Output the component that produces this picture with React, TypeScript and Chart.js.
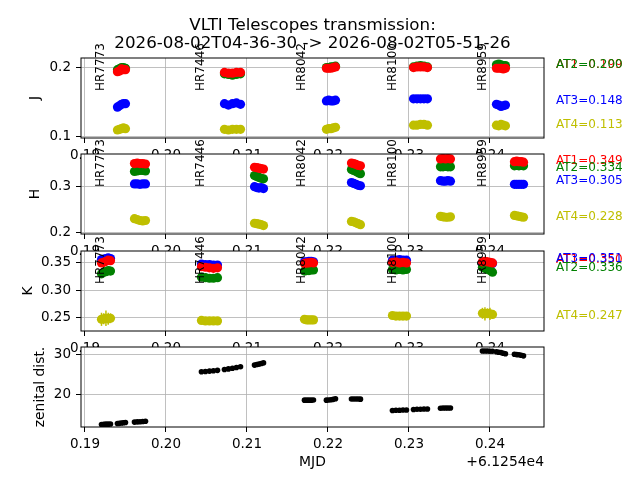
import { useEffect, useRef } from "react";
import { Chart, registerables } from "chart.js";

Chart.register(...registerables);

// MJD values are stored as offsets from 61254 (axis shows "+6.1254e4")
const stars = ["HR7773", "HR7446", "HR8042", "HR8100", "HR8959"];
const starMjd = [0.19191, 0.20432, 0.21673, 0.22796, 0.23907];
const telescopes = ["AT1", "AT2", "AT3", "AT4"];
const telColors = ["#ff0000", "#008000", "#0000ff", "#bfbf00"];
const xTicks = [0.19, 0.2, 0.21, 0.22, 0.23, 0.24];
const mjdOffsetLabel = "+6.1254e4";
const titleLines = [
  "VLTI Telescopes transmission:",
  "2026-08-02T04-36-30 -> 2026-08-02T05-51-26",
];

// observation times per band
const mjdK = [
  0.19204, 0.19232, 0.19259, 0.19287, 0.19315,
  0.20438, 0.20487, 0.20537, 0.20586, 0.20636,
  0.2171, 0.21738, 0.21765, 0.21793, 0.21821,
  0.22796, 0.22839, 0.22883, 0.22926, 0.22969,
  0.23907, 0.23938, 0.23969, 0.24, 0.24031,
];
const mjdJ = [
  0.19401, 0.19426, 0.19451, 0.19475, 0.195,
  0.20722, 0.20771, 0.20821, 0.2087, 0.2092,
  0.21981, 0.22009, 0.22037, 0.22065, 0.22093,
  0.23056, 0.23099, 0.23142, 0.23185, 0.23228,
  0.2408, 0.24108, 0.24136, 0.24164, 0.24191,
];
const mjdH = [
  0.19611, 0.19645, 0.19679, 0.19713, 0.19747,
  0.21093, 0.21121, 0.21148, 0.21176, 0.21204,
  0.2229, 0.22318, 0.22346, 0.22373, 0.22401,
  0.23389, 0.2342, 0.23451, 0.23481, 0.23512,
  0.24302, 0.2433, 0.24358, 0.24386, 0.24414,
];

// J band transmission
const jAT1 = [
  0.194, 0.195, 0.198, 0.197, 0.197, 0.193, 0.192, 0.192, 0.193, 0.193,
  0.199, 0.199, 0.199, 0.2, 0.201, 0.2, 0.201, 0.201, 0.201, 0.2,
  0.199, 0.199, 0.199, 0.198, 0.199,
];
const jAT2 = [
  0.197, 0.198, 0.2, 0.2, 0.199, 0.191, 0.19, 0.189, 0.19, 0.191,
  0.2, 0.2, 0.201, 0.201, 0.202, 0.201, 0.202, 0.203, 0.202, 0.201,
  0.204, 0.205, 0.204, 0.203, 0.203,
];
const jAT3 = [
  0.143, 0.145, 0.147, 0.148, 0.148, 0.148, 0.146, 0.148, 0.149, 0.147,
  0.152, 0.153, 0.152, 0.152, 0.153, 0.155, 0.155, 0.155, 0.155, 0.155,
  0.147, 0.146, 0.144, 0.145, 0.146,
];
const jAT4 = [
  0.11, 0.111, 0.112, 0.113, 0.112, 0.111, 0.11, 0.111, 0.111, 0.111,
  0.111, 0.112, 0.112, 0.113, 0.114, 0.117, 0.117, 0.118, 0.118, 0.117,
  0.117, 0.116, 0.118, 0.117, 0.116,
];

// H band transmission
const hAT1 = [
  0.35, 0.351, 0.35, 0.35, 0.349, 0.342, 0.341, 0.34, 0.339, 0.338,
  0.351, 0.35, 0.348, 0.346, 0.345, 0.36, 0.361, 0.36, 0.361, 0.36,
  0.354, 0.355, 0.354, 0.354, 0.353,
];
const hAT2 = [
  0.333, 0.334, 0.335, 0.335, 0.334, 0.324, 0.322, 0.32, 0.318, 0.317,
  0.337, 0.335, 0.333, 0.33, 0.328, 0.343, 0.343, 0.344, 0.343, 0.343,
  0.345, 0.346, 0.345, 0.346, 0.345,
];
const hAT3 = [
  0.306, 0.306, 0.305, 0.306, 0.306, 0.3, 0.298, 0.297, 0.298, 0.296,
  0.309, 0.307, 0.305, 0.303, 0.302, 0.313, 0.312, 0.312, 0.313, 0.312,
  0.305, 0.305, 0.305, 0.305, 0.305,
];
const hAT4 = [
  0.231, 0.229, 0.227, 0.226, 0.227, 0.221, 0.22, 0.219, 0.218, 0.216,
  0.225, 0.224, 0.222, 0.22, 0.218, 0.236, 0.235, 0.234, 0.234, 0.235,
  0.238, 0.237, 0.236, 0.235, 0.234,
];

// K band transmission
const kAT1 = [
  0.35, 0.351, 0.353, 0.355, 0.354, 0.343, 0.342, 0.341, 0.34, 0.341,
  0.349, 0.35, 0.35, 0.351, 0.35, 0.351, 0.352, 0.35, 0.351, 0.35,
  0.352, 0.353, 0.352, 0.351, 0.35,
];
const kAT2 = [
  0.33, 0.333, 0.334, 0.336, 0.335, 0.324, 0.323, 0.322, 0.322, 0.323,
  0.335, 0.336, 0.336, 0.337, 0.337, 0.338, 0.337, 0.338, 0.337, 0.338,
  0.342, 0.34, 0.338, 0.336, 0.333,
];
const kAT3 = [
  0.356, 0.357, 0.358, 0.359, 0.358, 0.348, 0.347, 0.347, 0.346, 0.346,
  0.352, 0.352, 0.353, 0.353, 0.352, 0.355, 0.355, 0.356, 0.355, 0.355,
  0.35, 0.35, 0.349, 0.349, 0.349,
];
const kAT4 = [
  0.247, 0.248, 0.249, 0.248, 0.249, 0.245, 0.244, 0.244, 0.244, 0.244,
  0.247, 0.246, 0.246, 0.246, 0.246, 0.254, 0.253, 0.253, 0.253, 0.253,
  0.258, 0.257, 0.258, 0.257, 0.256,
];
const kErrAT1 = [
  0.006, 0.01, 0.008, 0.005, 0.007, 0, 0, 0, 0, 0,
  0, 0, 0, 0, 0, 0, 0, 0, 0, 0,
  0.004, 0.006, 0.008, 0.005, 0.004,
];
const kErrAT4 = [
  0.012, 0.01, 0.014, 0.011, 0.009, 0.002, 0.002, 0.002, 0.002, 0.002,
  0.002, 0.002, 0.002, 0.002, 0.002, 0.003, 0.003, 0.003, 0.003, 0.003,
  0.01, 0.012, 0.009, 0.011, 0.008,
];

// zenithal distance (deg) at the same times
const zenK = [
  12.5, 12.55, 12.6, 12.6, 12.65, 25.6, 25.65, 25.75, 25.85, 25.95,
  18.55, 18.55, 18.55, 18.55, 18.6, 16.0, 16.05, 16.05, 16.1, 16.1,
  30.75, 30.75, 30.75, 30.7, 30.7,
];
const zenJ = [
  12.75, 12.8, 12.9, 12.95, 13.0, 26.15, 26.3, 26.45, 26.65, 26.85,
  18.55, 18.6, 18.65, 18.75, 18.9, 16.25, 16.3, 16.3, 16.35, 16.35,
  30.55, 30.45, 30.35, 30.2, 30.05,
];
const zenH = [
  13.1, 13.15, 13.2, 13.25, 13.3, 27.25, 27.4, 27.5, 27.65, 27.8,
  18.85, 18.85, 18.85, 18.85, 18.8, 16.55, 16.6, 16.6, 16.6, 16.6,
  29.95, 29.85, 29.8, 29.7, 29.55,
];

// values printed at the right of each panel
const summaryJ = [0.199, 0.2, 0.148, 0.113];
const summaryH = [0.349, 0.334, 0.305, 0.228];
const summaryK = [0.35, 0.336, 0.351, 0.247];

const FONT = "'DejaVu Sans', sans-serif";
const X_MIN = 0.18951;
const X_MAX = 0.24667;
const LEFT = 81;
const RIGHT = 544;
const XAXIS_H = 30;

interface Series {
  color: string;
  xs: number[];
  ys: number[];
  errs?: number[];
  radius: number;
}

interface PanelSpec {
  top: number;
  bottom: number;
  yMin: number;
  yMax: number;
  yTicks: number[];
  decimals: number;
  yTitle: string;
  yTitleGap: number;
  series: Series[];
  summary?: number[];
  showStars: boolean;
  isFirst: boolean;
  isLast: boolean;
}

const bandSeries = (xs: number[], vals: number[][], errs: (number[] | undefined)[] = []) =>
  vals.map((ys, i) => ({ color: telColors[i], xs, ys, errs: errs[i], radius: 4.6 }));

const panels: PanelSpec[] = [
  {
    top: 58, bottom: 138, yMin: 0.0985, yMax: 0.2138, yTicks: [0.1, 0.2], decimals: 1,
    yTitle: "J", yTitleGap: 46,
    series: bandSeries(mjdJ, [jAT1, jAT2, jAT3, jAT4]),
    summary: summaryJ, showStars: true, isFirst: true, isLast: false,
  },
  {
    top: 154, bottom: 234, yMin: 0.1978, yMax: 0.3706, yTicks: [0.2, 0.3], decimals: 1,
    yTitle: "H", yTitleGap: 46,
    series: bandSeries(mjdH, [hAT1, hAT2, hAT3, hAT4]),
    summary: summaryH, showStars: true, isFirst: false, isLast: false,
  },
  {
    top: 251, bottom: 331, yMin: 0.2257, yMax: 0.3717, yTicks: [0.25, 0.3, 0.35], decimals: 2,
    yTitle: "K", yTitleGap: 53,
    series: bandSeries(mjdK, [kAT1, kAT2, kAT3, kAT4], [kErrAT1, undefined, undefined, kErrAT4]),
    summary: summaryK, showStars: true, isFirst: false, isLast: false,
  },
  {
    top: 347, bottom: 427, yMin: 11.89, yMax: 31.74, yTicks: [20, 30], decimals: 0,
    yTitle: "zenital dist.", yTitleGap: 41,
    series: [
      { color: "#000000", xs: [...mjdK, ...mjdJ, ...mjdH], ys: [...zenK, ...zenJ, ...zenH], radius: 2.8 },
    ],
    showStars: false, isFirst: false, isLast: true,
  },
];

function makeDeco(spec: PanelSpec) {
  return {
    id: "deco",
    beforeDraw(chart: any) {
      const { ctx, chartArea: a } = chart;
      ctx.save();
      ctx.fillStyle = "#ffffff";
      ctx.fillRect(a.left, a.top, a.right - a.left, a.bottom - a.top);
      ctx.restore();
    },
    beforeDatasetsDraw(chart: any) {
      // error bars
      const { ctx, chartArea: a, scales } = chart;
      ctx.save();
      ctx.beginPath();
      ctx.rect(a.left, a.top, a.right - a.left, a.bottom - a.top);
      ctx.clip();
      ctx.lineWidth = 1.5;
      spec.series.forEach((s) => {
        if (!s.errs) return;
        ctx.strokeStyle = s.color;
        s.xs.forEach((x, k) => {
          const e = s.errs![k];
          if (!e) return;
          const px = scales.x.getPixelForValue(x);
          ctx.beginPath();
          ctx.moveTo(px, scales.y.getPixelForValue(s.ys[k] - e));
          ctx.lineTo(px, scales.y.getPixelForValue(s.ys[k] + e));
          ctx.stroke();
        });
      });
      ctx.restore();
    },
    afterDatasetsDraw(chart: any) {
      const { ctx, chartArea: a, scales } = chart;
      ctx.save();
      // frame
      ctx.strokeStyle = "#000";
      ctx.lineWidth = 1;
      ctx.strokeRect(a.left, a.top, a.right - a.left, a.bottom - a.top);

      // star names, rotated
      if (spec.showStars) {
        ctx.fillStyle = "#000";
        ctx.font = `12px ${FONT}`;
        ctx.textAlign = "left";
        ctx.textBaseline = "middle";
        stars.forEach((name, i) => {
          ctx.save();
          ctx.translate(scales.x.getPixelForValue(starMjd[i]), a.top + 33);
          ctx.rotate(-Math.PI / 2);
          ctx.fillText(name, 0, 0);
          ctx.restore();
        });
      }

      // AT summary values at the right
      if (spec.summary) {
        ctx.font = `12px ${FONT}`;
        ctx.textAlign = "left";
        ctx.textBaseline = "alphabetic";
        spec.summary.forEach((v, i) => {
          ctx.fillStyle = telColors[i];
          ctx.fillText(`${telescopes[i]}=${v.toFixed(3)}`, a.right + 12, scales.y.getPixelForValue(v));
        });
      }

      // y axis title
      ctx.fillStyle = "#000";
      ctx.font = `13.9px ${FONT}`;
      ctx.textAlign = "center";
      ctx.textBaseline = "middle";
      ctx.save();
      ctx.translate(a.left - spec.yTitleGap, (a.top + a.bottom) / 2);
      ctx.rotate(-Math.PI / 2);
      ctx.fillText(spec.yTitle, 0, 0);
      ctx.restore();

      if (spec.isLast) {
        ctx.textAlign = "center";
        ctx.fillText("MJD", (a.left + a.right) / 2, a.bottom + 35);
        ctx.textAlign = "right";
        ctx.fillText(mjdOffsetLabel, a.right, a.bottom + 35);
      }

      if (spec.isFirst) {
        ctx.font = `16.7px ${FONT}`;
        ctx.textAlign = "center";
        const cx = (a.left + a.right) / 2;
        ctx.fillText(titleLines[0], cx, 26);
        ctx.fillText(titleLines[1], cx, 43.5);
      }
      ctx.restore();
    },
  };
}

const Panel: React.FC<{ spec: PanelSpec; z: number }> = ({ spec, z }) => {
  const chartRef = useRef<HTMLCanvasElement>(null);

  useEffect(() => {
    if (!chartRef.current) return;
    const tickFont = { family: FONT, size: 13.5 };
    const gridOpts = {
      color: "#b0b0b0",
      lineWidth: 0.8,
      tickColor: "#000",
      tickLength: 5,
      tickWidth: 1,
    };
    // Chart.js paints dataset 0 last, so AT1 (red) ends up on top
    const datasets = spec.series.map((s) => ({
      data: s.xs.map((x, i) => ({ x, y: s.ys[i] })),
      backgroundColor: s.color,
      borderColor: s.color,
      pointRadius: s.radius,
      pointBorderWidth: 0,
      showLine: false,
    }));

    const chart = new Chart(chartRef.current, {
      type: "scatter",
      data: { datasets },
      options: {
        responsive: false,
        animation: false,
        events: [],
        layout: {
          padding: {
            left: 0,
            right: 640 - RIGHT,
            top: spec.top,
            bottom: 480 - spec.bottom - XAXIS_H,
          },
        },
        plugins: { legend: { display: false }, tooltip: { enabled: false } },
        scales: {
          x: {
            type: "linear",
            min: X_MIN,
            max: X_MAX,
            afterBuildTicks: (ax: any) => {
              ax.ticks = xTicks.map((v) => ({ value: v }));
            },
            afterFit: (ax: any) => {
              ax.height = XAXIS_H;
            },
            grid: gridOpts,
            border: { display: false },
            ticks: {
              autoSkip: false,
              maxRotation: 0,
              padding: 4,
              color: "#000",
              font: tickFont,
              callback: (v: any) => Number(v).toFixed(2),
            },
          },
          y: {
            type: "linear",
            min: spec.yMin,
            max: spec.yMax,
            afterBuildTicks: (ax: any) => {
              ax.ticks = spec.yTicks.map((v) => ({ value: v }));
            },
            afterFit: (ax: any) => {
              ax.width = LEFT;
            },
            grid: gridOpts,
            border: { display: false },
            ticks: {
              autoSkip: false,
              padding: 5,
              color: "#000",
              font: tickFont,
              callback: (v: any) => Number(v).toFixed(spec.decimals),
            },
          },
        },
      },
      plugins: [makeDeco(spec)],
    } as any);

    return () => chart.destroy();
  }, [spec]);

  return (
    <canvas
      ref={chartRef}
      width={640}
      height={480}
      style={{ position: "absolute", left: 0, top: 0, zIndex: z }}
    />
  );
};

export default function App() {
  return (
    <div
      style={{
        position: "fixed",
        left: 0,
        top: 0,
        width: 640,
        height: 480,
        background: "#ffffff",
        overflow: "hidden",
      }}
    >
      {panels.map((p, i) => (
        <Panel key={i} spec={p} z={i + 1} />
      ))}
    </div>
  );
}
